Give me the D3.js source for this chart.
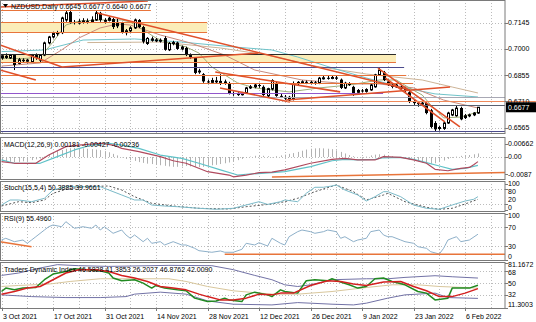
<!DOCTYPE html>
<html>
<head>
<meta charset="utf-8">
<title>NZDUSD Daily</title>
<script src="https://cdn.jsdelivr.net/npm/d3@7/dist/d3.min.js"></script>
<style>
  html, body { margin: 0; padding: 0; background: #ffffff; }
  svg { display: block; }
  text { font-family: "Liberation Sans", Arial, sans-serif; font-size: 7px; fill: #000; }
</style>
</head>
<body>
<svg id="chart" width="536" height="322"></svg>
<script>
// ---------- daily candles, bar 0 = Sun 3 Oct 2021 ----------
const opens = [
  .6950,.6962,.6950,.6966,.6920,.6940,.6932,.6928,.6966,.6938,
  .6966,.7033,.7066,.7085,.7090,.7160,.7204,.7149,.7143,.7150,
  .7155,.7150,.7160,.7199,.7160,.7158,.7165,.7150,.7143,.7090,
  .7100,.7116,.7160,.7121,.7030,.7058,.7045,.7050,.7060,.6995,
  .7030,.7035,.7000,.7005,.6966,.6950,.6880,.6860,.6820,.6815,
  .6825,.6815,.6820,.6811,.6756,.6750,.6748,.6756,.6784,.6790,
  .6800,.6790,.6740,.6778,.6810,.6740,.6735,.6735,.6720,.6808,
  .6815,.6818,.6812,.6815,.6810,.6838,.6840,.6838,.6842,.6830,
  .6784,.6810,.6790,.6760,.6770,.6765,.6773,.6790,.6856,.6870,
  .6820,.6800,.6790,.6790,.6780,.6760,.6706,.6700,.6695,.6700,
  .6660,.6590,.6560,.6560,.6590,.6634,.6630,.6673,.6620,.6630,
  .6635,.6645];
const highs = [
  .6972,.6975,.6972,.6970,.6950,.6948,.6945,.6972,.6975,.6970,
  .7040,.7072,.7095,.7100,.7178,.7210,.7218,.7160,.7165,.7170,
  .7168,.7180,.7210,.7205,.7170,.7180,.7172,.7168,.7150,.7110,
  .7125,.7168,.7165,.7128,.7065,.7068,.7060,.7058,.7070,.7038,
  .7045,.7040,.7018,.7012,.6975,.6955,.6890,.6866,.6830,.6840,
  .6845,.6860,.6830,.6818,.6765,.6760,.6762,.6790,.6800,.6810,
  .6812,.6798,.6785,.6832,.6818,.6752,.6745,.6740,.6820,.6822,
  .6826,.6825,.6824,.6822,.6845,.6855,.6850,.6852,.6850,.6836,
  .6818,.6816,.6796,.6778,.6778,.6782,.6808,.6862,.6894,.6878,
  .6830,.6808,.6808,.6800,.6790,.6768,.6718,.6712,.6712,.6708,
  .6668,.6600,.6575,.6598,.6652,.6668,.6685,.6680,.6640,.6642,
  .6650,.6677];
const lows = [
  .6940,.6945,.6944,.6883,.6915,.6925,.6920,.6922,.6940,.6925,
  .6960,.7025,.7058,.7072,.7082,.7150,.7140,.7135,.7135,.7140,
  .7140,.7145,.7155,.7150,.7140,.7152,.7110,.7115,.7085,.7075,
  .7090,.7110,.7115,.7030,.7022,.7040,.7038,.7035,.6990,.6988,
  .7020,.6995,.6992,.6960,.6945,.6860,.6862,.6812,.6805,.6808,
  .6810,.6800,.6802,.6748,.6740,.6740,.6742,.6750,.6778,.6782,
  .6785,.6740,.6732,.6770,.6735,.6728,.6718,.6710,.6715,.6800,
  .6806,.6805,.6804,.6802,.6805,.6830,.6830,.6832,.6828,.6778,
  .6778,.6795,.6740,.6752,.6758,.6758,.6768,.6785,.6850,.6822,
  .6795,.6782,.6784,.6772,.6762,.6700,.6690,.6680,.6688,.6638,
  .6560,.6542,.6548,.6552,.6585,.6628,.6625,.6605,.6612,.6622,
  .6628,.6640];
const closes = [
  .6962,.6950,.6966,.6911,.6940,.6932,.6938,.6966,.6950,.6966,
  .7033,.7066,.7085,.7090,.7171,.7199,.7149,.7143,.7150,.7155,
  .7150,.7160,.7199,.7160,.7150,.7170,.7121,.7125,.7088,.7100,
  .7116,.7160,.7121,.7040,.7058,.7045,.7050,.7040,.6995,.7030,
  .7035,.7000,.7010,.6966,.6955,.6867,.6870,.6820,.6815,.6825,
  .6815,.6820,.6810,.6756,.6750,.6748,.6752,.6784,.6790,.6800,
  .6795,.6745,.6780,.6825,.6740,.6735,.6725,.6715,.6808,.6815,
  .6818,.6812,.6815,.6810,.6838,.6840,.6838,.6842,.6835,.6784,
  .6810,.6800,.6745,.6770,.6765,.6775,.6800,.6856,.6883,.6828,
  .6800,.6790,.6800,.6780,.6770,.6706,.6700,.6695,.6700,.6645,
  .6568,.6555,.6565,.6590,.6645,.6662,.6672,.6610,.6630,.6635,
  .6645,.6677];

// ---------- axis labels ----------
const dateLabels = ["3 Oct 2021","17 Oct 2021","31 Oct 2021","14 Nov 2021","28 Nov 2021",
                    "12 Dec 2021","26 Dec 2021","9 Jan 2022","23 Jan 2022","6 Feb 2022"];
const priceTicks = [0.7145, 0.7000, 0.6855, 0.6710, 0.6565];
const macdTicks = [[0.00662, "0.00662"], [0, "0.00"], [-0.0087, "-0.0087"]];
const stochTicks = [100, 80, 20, 0];
const rsiTicks = [100, 70, 30, 0];
const tdiTicks = [[81.1672, "81.1672"], [68, "68"], [50, "50"], [32, "32"], [11.3003, "11.3003"]];

// ---------- moving averages on price, [bar, price] ----------
const fastMA = [[0,0.6948],[5,0.6946],[9,0.6955],[12,0.7038],[15,0.7132],[18,0.7154],[23,0.7160],[28,0.7160],
  [30,0.7149],[32,0.7121],[36,0.7060],[39,0.7033],[43,0.7011],[46,0.6977],[49,0.6900],[52,0.6856],[55,0.6812],
  [59,0.6784],[67,0.6762],[74,0.6784],[81,0.6800],[88,0.6828],[92,0.6828],[95,0.6784],[98,0.6745],[100,0.6690],
  [103,0.6618],[107,0.6623],[111,0.6651]];
const midMA = [[0,0.6905],[9,0.6922],[14,0.6994],[18,0.7060],[23,0.7116],[27,0.7138],[30,0.7132],[37,0.7077],
  [44,0.7033],[52,0.6966],[59,0.6883],[70,0.6828],[81,0.6806],[88,0.6806],[96,0.6784],[103,0.6717],[111,0.6673]];
const slowMA = [[0,0.6985],[10,0.6994],[19,0.7049],[31,0.7055],[42,0.7038],[54,0.7011],[63,0.6994],[69,0.6955],
  [77,0.6895],[85,0.6839],[93,0.6789],[101,0.6751],[111,0.6734]];
const longMA = [[20,0.7035],[37,0.7038],[51,0.7005],[62,0.6966],[73,0.6905],[85,0.6861],[98,0.6828],[105,0.6789],[111,0.6756]];

// ---------- drawn objects on the price pane ----------
// zones: [upper price, lower price, from bar, to bar]
const zones = [[0.7148, 0.7094, -0.35, 47.9], [0.6972, 0.6928, -0.35, 91.9]];
// levels: [price, from bar, to bar, kind]
const levels = [
  [0.7215, -0.35, 34.8, "orange"],
  [0.7148, -0.35, 47.9, "orange"], [0.7094, -0.35, 47.9, "orange"],
  [0.6972, -0.35, 91.9, "dark"], [0.6928, -0.35, 91.9, "orange"],
  [0.6900, -0.35, 93.8, "navy"],
  [0.6856, -0.35, 94.3, "orange"], [0.6811, -0.35, 95.9, "orange"],
  [0.6756, -0.35, 88.9, "purple"],
  [0.6734, -0.35, 117.3, "gray"],
  [0.6710, 66.5, 124.5, "salmon"],
  [0.6690, -0.35, 117.3, "slate"],
  [0.6546, -0.35, 117.3, "navy"]];
// trend lines: [bar1, price1, bar2, price2]
const trendLines = [
  [-0.35, 0.7232, 34.1, 0.7265],
  [22.3, 0.7199, 95.2, 0.6773],
  [-0.35, 0.7022, 14.1, 0.6900],
  [-0.35, 0.6883, 8.0, 0.6828],
  [14.1, 0.6900, 59.8, 0.6977],
  [49.8, 0.6872, 78.9, 0.6762],
  [50.9, 0.6784, 67.2, 0.6706],
  [66.3, 0.6717, 104.5, 0.6789],
  [87.7, 0.6894, 106.8, 0.6568],
  [89.4, 0.6839, 103.3, 0.6596]];

// ---------- MACD(12,26,9) ----------
const macdHist = [
  -0.0020,-0.0022,-0.0024,-0.0026,-0.0025,-0.0022,-0.0020,-0.0016,-0.0012,-0.0008,
  0.0002,0.0012,0.0022,0.0030,0.0036,0.0042,0.0045,0.0046,0.0045,0.0044,0.0042,0.0040,0.0038,0.0035,0.0030,0.0024,0.0016,
  0.0008,-0.0002,-0.0010,-0.0016,-0.0020,-0.0026,-0.0030,-0.0034,-0.0036,-0.0040,-0.0042,-0.0045,-0.0048,-0.0050,
  -0.0050,-0.0048,-0.0046,-0.0048,-0.0050,-0.0052,-0.0050,-0.0046,-0.0042,-0.0040,-0.0036,-0.0032,-0.0028,-0.0022,-0.0016,-0.0010,
  -0.0004,0.0002,0.0006,0.0008,0.0006,0.0004,-0.0002,0.0004,0.0008,0.0012,0.0016,0.0020,
  0.0026,0.0032,0.0038,0.0042,0.0044,0.0045,0.0044,0.0042,0.0040,0.0034,0.0026,0.0018,
  0.0010,0.0004,0.0000,-0.0004,0.0002,0.0008,0.0012,0.0014,0.0012,0.0008,0.0004,0.0000,-0.0004,-0.0008,-0.0012,-0.0016,
  -0.0022,-0.0028,-0.0032,-0.0034,-0.0032,-0.0026,-0.0018,
  -0.0010,-0.0004,0.0002,0.0006,0.0008,0.0010,0.0014,0.00181];
const macdMain = [[0,-0.0024],[3,-0.0032],[8,-0.0032],[11,0.0010],[15,0.0053],[18,0.0061],[23,0.0070],[26,0.0061],
  [28,0.0044],[32,0.0027],[37,0.0002],[40,-0.0019],[43,-0.0032],[48,-0.0075],[53,-0.0092],[54,-0.0101],[57,-0.0092],
  [60,-0.0080],[63,-0.0077],[66,-0.0066],[72,-0.0032],[77,-0.0012],[80,-0.0007],[83,-0.0015],[87,-0.0015],[89,0.0002],
  [93,-0.0002],[96,-0.0015],[99,-0.0032],[101,-0.0063],[104,-0.0070],[107,-0.0058],[109,-0.0053],[110,-0.0040],[111,-0.00236]];
const macdSignal = [[0,-0.0015],[3,-0.0032],[9,-0.0032],[13,0.0002],[17,0.0036],[21,0.0061],[25,0.0070],[28,0.0061],
  [32,0.0044],[37,0.0010],[42,-0.0007],[46,-0.0032],[51,-0.0066],[55,-0.0092],[57,-0.0088],[63,-0.0080],[66,-0.0075],
  [72,-0.0049],[77,-0.0019],[80,-0.0012],[83,-0.0015],[87,-0.0012],[89,-0.0004],[93,-0.0002],[96,-0.0012],[99,-0.0029],
  [102,-0.0046],[105,-0.0063],[108,-0.0058],[111,-0.00427]];
const macdTrend = [[63,-0.0102],[117.3,-0.0079]];

// ---------- Stochastic(15,5,4) ----------
const stochMain = [[0,17.6],[2,37.3],[4,37.3],[7,30.6],[10,43.9],[12,76.5],[15,89.4],[19,89.4],[23,89.4],[25,76.5],
  [28,56.9],[31,37.3],[33,37.3],[35,17.6],[38,13.7],[41,11],[46,4.7],[50,0.8],[54,4.7],[57,17.6],[60,30.6],[62,20],
  [65,30.6],[66,37.3],[69,30.6],[71,63.5],[73,87.1],[75,87.1],[77,92.2],[78,96.1],[80,76.5],[83,56.9],[85,33.3],
  [87,50.2],[89,69.8],[90,69.8],[93,50.2],[96,17.6],[99,4.7],[102,0.8],[105,17.6],[108,33.3],[110,40],[111,50.3885]];
const stochSignal = [[0,13.7],[4,30.6],[7,26.7],[10,37.3],[12,63.5],[15,79.2],[19,89.4],[25,92.2],[28,76.5],[31,50.2],
  [35,24.3],[40,13.7],[46,4.7],[53,2],[57,11],[63,21.6],[66,30.6],[69,43.9],[73,69.8],[78,96.1],[82,69.8],[85,37.3],
  [89,56.9],[90,63.5],[94,30.6],[99,8.6],[102,0.8],[105,4.7],[108,21.6],[111,39.9661]];

// ---------- RSI(9) ----------
const rsiLine = [[0,43],[1,46.7],[3,39.4],[5,43],[6,35.9],[7,43],[8,50.1],[10,64.5],[11,71.6],[12,75.3],[14,71.6],
  [15,82.4],[16,75.3],[17,68.2],[19,71.6],[21,68.2],[22,75.3],[23,64.5],[24,71.6],[26,57.4],[28,64.5],[29,53.8],
  [30,46.7],[31,53.8],[33,39.4],[34,46.7],[35,35.9],[37,39.4],[38,32.3],[40,39.4],[42,32.3],[43,32.3],[45,25.2],
  [46,20],[49,16.6],[51,19.4],[52,16.6],[54,16.6],[56,23],[57,35.9],[59,32.3],[60,37.2],[62,30.1],[63,46.7],
  [65,35.9],[66,32.3],[67,50.1],[69,60.9],[70,64.5],[72,60.9],[73,57.4],[75,60.9],[76,64.5],[78,60.9],[79,46.7],
  [80,50.1],[82,39.4],[83,43],[85,46.7],[86,60.9],[88,64.5],[89,53.8],[90,50.1],[91,50.1],[93,43],[94,39.4],
  [96,35.9],[97,28.6],[99,25.2],[100,17.8],[102,12.9],[103,25.2],[104,43],[105,46.7],[106,50.1],[107,39.4],
  [109,43],[111,55.496]];
const rsiTrends = [[[-0.35,39.4],[7,28.6]], [[52,12.3],[117.3,12.3]]];

// ---------- Traders Dynamic Index ----------
const tdiPrice = [[0,36.9],[1,42.2],[3,39.5],[5,42.2],[8,43.1],[10,55.2],[12,64],[15,68.1],[17,72.3],[20,70.8],
  [23,69.2],[25,65.6],[26,57.8],[28,53.6],[31,55.2],[33,50],[35,42.2],[36,46.3],[38,42.2],[41,39.5],[43,38],
  [45,26.6],[48,21.3],[50,22.3],[52,26.6],[53,23.9],[56,21.3],[57,31.7],[59,35.9],[62,31.7],[63,29],[65,39.5],
  [66,36.9],[69,34.4],[71,53.6],[73,55.2],[76,53.6],[77,56.7],[79,51.6],[81,47.3],[83,42.2],[85,44.7],[87,56.7],
  [89,57.8],[91,52.5],[94,47.3],[97,36.9],[99,34.4],[101,23.9],[104,26.6],[105,42.2],[107,42.2],[109,42.2],[111,46.5828]];
const tdiSignal = [[0,32.8],[3,36.9],[6,42.2],[9,44.7],[12,55.2],[15,65.6],[18,70.8],[22,70.8],[25,68.1],[28,61.9],
  [31,57.8],[34,52.5],[37,44.7],[40,42.2],[43,39.5],[46,32.8],[48,29],[51,23.9],[54,23.9],[57,26.6],[60,32.8],
  [63,31.7],[65,34.4],[68,34.4],[72,46.3],[76,53.6],[79,52.5],[82,48.4],[85,46.3],[89,51.6],[93,52.5],[96,44.7],
  [99,38],[102,29],[105,29],[108,34.4],[111,41.3853]];
const tdiBase = [[0,44.7],[4,46.3],[11,48.4],[16,52.5],[23,56.7],[31,56.7],[39,56.7],[43,52.5],[48,44.7],[54,38],
  [63,32.8],[69,32.8],[77,36.9],[85,43.1],[91,47.3],[97,47.3],[102,44.7],[108,43.1],[111,42.009]];
const tdiUpper = [[0,61.9],[4,65.6],[9,73.4],[13,78.6],[18,77],[25,75.9],[39,77.5],[49,77],[54,70.8],[59,61.9],
  [63,55.2],[66,47.3],[69,44.7],[72,47.3],[77,55.2],[85,56.7],[90,56.7],[94,58.8],[101,61.4],[105,59.8],[111,57.8]];
const tdiLower = [[0,31.7],[7,29],[15,27.5],[23,27.5],[29,29],[31,32.8],[37,35.9],[43,32.8],[48,22.3],[54,17.2],
  [63,16.1],[69,19.7],[77,17.2],[82,16.1],[85,18.8],[90,26.6],[94,31.7],[101,34.4],[104,27.5],[111,26.2027]];

// ---------- layout & colours ----------
const plotRight = 505;
const panes = {
  main:  { top: 0,   bottom: 133 },
  macd:  { top: 137, bottom: 179 },
  stoch: { top: 181, bottom: 211 },
  rsi:   { top: 213, bottom: 260 },
  tdi:   { top: 262, bottom: 308 }
};
const ink = {
  orange: "#e8743a", red: "#e0502a", navy: "#4b4b8c", purple: "#9257cc", dark: "#2a2a2a",
  gray: "#a8a8b4", slate: "#5a6070", salmon: "#f08a5c", grid: "#bcbcbc", frame: "#7a7a7a"
};

const svg = d3.select("#chart");
const x = d3.scaleLinear().domain([-0.35, 117.3]).range([0, plotRight]);
const col = i => Math.round(x(i)) + 0.5;
const crisp = v => Math.round(v) + 0.5;

const y = {
  main:  d3.scaleLinear().domain([0.65346, 0.72706]).range([133, 0]),
  macd:  d3.scaleLinear().domain([-0.01122, 0.0102]).range([179, 137]),
  stoch: d3.scaleLinear().domain([0, 100]).range([209.5, 184]),
  rsi:   d3.scaleLinear().domain([0, 100]).range([260, 213.5]),
  tdi:   d3.scaleLinear().domain([11.3003, 81.1672]).range([308, 263])
};

svg.append("rect").attr("width", 536).attr("height", 322).attr("fill", "#fff");

const defs = svg.append("defs");
Object.entries(panes).forEach(([k, p]) => {
  defs.append("clipPath").attr("id", "clip-" + k)
    .append("rect").attr("x", 0).attr("y", p.top).attr("width", plotRight).attr("height", p.bottom - p.top);
});
const layer = k => svg.append("g").attr("clip-path", `url(#clip-${k})`);

function hline(g, yy, x1, x2, color, w, dash) {
  g.append("line").attr("x1", x1).attr("x2", x2).attr("y1", crisp(yy)).attr("y2", crisp(yy))
    .attr("stroke", color).attr("stroke-width", w || 1).attr("stroke-dasharray", dash || null);
}
function series(g, data, sc, color, w, dash) {
  g.append("path").datum(data)
    .attr("d", d3.line().x(d => x(d[0])).y(d => sc(d[1])))
    .attr("fill", "none").attr("stroke", color).attr("stroke-width", w || 1)
    .attr("stroke-linejoin", "round").attr("stroke-dasharray", dash || null);
}

// ---------- grid ----------
const weekBars = d3.range(0, 117, 6);
const gridG = svg.append("g");
Object.values(panes).forEach(p => {
  weekBars.forEach(i => {
    gridG.append("line").attr("x1", col(i)).attr("x2", col(i)).attr("y1", p.top).attr("y2", p.bottom)
      .attr("stroke", ink.grid).attr("stroke-dasharray", "1,2");
  });
});
priceTicks.forEach(p => hline(gridG, y.main(p), 0, plotRight, ink.grid, 1, "1,2"));
hline(gridG, y.macd(0), 0, plotRight, ink.grid, 1, "1,2");
[80, 20].forEach(v => hline(gridG, y.stoch(v), 0, plotRight, ink.grid, 1, "1,2"));
[70, 30].forEach(v => hline(gridG, y.rsi(v), 0, plotRight, ink.grid, 1, "1,2"));
[68, 50, 32].forEach(v => hline(gridG, y.tdi(v), 0, plotRight, ink.grid, 1, "1,2"));

// ---------- price pane ----------
const mainG = layer("main");
zones.forEach(z => {
  mainG.append("rect").attr("x", x(z[2])).attr("width", x(z[3]) - x(z[2]))
    .attr("y", y.main(z[0])).attr("height", y.main(z[1]) - y.main(z[0]))
    .attr("fill", "#fbedb8");
});
series(mainG, longMA, y.main, "#cdb497", 1);
series(mainG, slowMA, y.main, "#6fc3c9", 1);
series(mainG, midMA, y.main, "#c98a7c", 1);
series(mainG, fastMA, y.main, "#9fae78", 1);

const candles = d3.range(closes.length).map(i => ({ i, o: opens[i], h: highs[i], l: lows[i], c: closes[i] }));
const cg = mainG.append("g");
candles.forEach(d => {
  const cx = col(d.i);
  cg.append("line").attr("x1", cx).attr("x2", cx).attr("y1", y.main(d.h)).attr("y2", y.main(d.l))
    .attr("stroke", "#000").attr("stroke-width", 1);
  const top = y.main(Math.max(d.o, d.c)), bot = y.main(Math.min(d.o, d.c));
  const h = Math.max(1, bot - top);
  if (d.c >= d.o) {
    cg.append("rect").attr("x", cx - 1).attr("width", 2).attr("y", top).attr("height", h)
      .attr("fill", "#fff").attr("stroke", "#000").attr("stroke-width", 1);
  } else {
    cg.append("rect").attr("x", cx - 1.5).attr("width", 3).attr("y", top).attr("height", h).attr("fill", "#000");
  }
});

const levelG = svg.append("g");
levels.forEach(l => {
  const g = l[3] === "salmon" ? levelG : mainG;
  hline(g, y.main(l[0]), x(l[1]), x(l[2]), ink[l[3]], 1);
});
trendLines.forEach(t => {
  mainG.append("line").attr("x1", x(t[0])).attr("y1", y.main(t[1])).attr("x2", x(t[2])).attr("y2", y.main(t[3]))
    .attr("stroke", ink.red).attr("stroke-width", 1.6);
});

// ---------- MACD pane ----------
const macdG = layer("macd");
macdHist.forEach((v, i) => {
  macdG.append("line").attr("x1", col(i)).attr("x2", col(i)).attr("y1", y.macd(0)).attr("y2", y.macd(v))
    .attr("stroke", "#b2b2b2").attr("stroke-width", 1);
});
series(macdG, macdSignal, y.macd, "#5fc2c8", 1.2);
series(macdG, macdMain, y.macd, "#b04a5e", 1.2);
series(macdG, macdTrend, y.macd, ink.orange, 1.6);

// ---------- Stochastic pane ----------
const stG = layer("stoch");
series(stG, stochSignal, y.stoch, "#555", 1, "2,2");
series(stG, stochMain, y.stoch, "#7bbac8", 1);

// ---------- RSI pane ----------
const rsG = layer("rsi");
series(rsG, rsiLine, y.rsi, "#8eb0c9", 1);
rsiTrends.forEach(t => series(rsG, t, y.rsi, ink.orange, 1.6));

// ---------- TDI pane ----------
const tdG = layer("tdi");
series(tdG, tdiUpper, y.tdi, "#7272a6", 1);
series(tdG, tdiLower, y.tdi, "#7272a6", 1);
series(tdG, tdiBase, y.tdi, "#d9c79c", 1);
series(tdG, tdiPrice, y.tdi, "#218a21", 1.5);
series(tdG, tdiSignal, y.tdi, "#d42020", 1.5);

// ---------- frames ----------
Object.values(panes).forEach(p => {
  svg.append("rect").attr("x", 0.5).attr("y", p.top + 0.5).attr("width", plotRight - 0.5)
    .attr("height", p.bottom - p.top).attr("fill", "none").attr("stroke", ink.frame).attr("stroke-width", 1);
});

// ---------- right axis labels ----------
const axG = svg.append("g");
// place a pane's scale labels, keeping them inside the pane and at least `gap` px apart
function paneLabels(pane, items, gap) {
  const p = panes[pane];
  const lo = p.top + 3, hi = p.bottom - 3;
  const pos = items.map(d => ({ y0: d.y, y: Math.max(lo, Math.min(hi, d.y)), s: d.s }))
    .sort((a, b) => a.y - b.y);
  for (let k = 1; k < pos.length; k++) pos[k].y = Math.max(pos[k].y, pos[k - 1].y + gap);
  if (pos.length && pos[pos.length - 1].y > hi) {
    pos[pos.length - 1].y = hi;
    for (let k = pos.length - 2; k >= 0; k--) pos[k].y = Math.min(pos[k].y, pos[k + 1].y - gap);
  }
  pos.forEach(d => {
    axG.append("line").attr("x1", plotRight).attr("x2", plotRight + 3).attr("y1", crisp(d.y0)).attr("y2", crisp(d.y0))
      .attr("stroke", ink.frame);
    axG.append("text").attr("x", plotRight + 3).attr("y", d.y).attr("dy", "0.35em").text(d.s);
  });
}
paneLabels("main", priceTicks.map(p => ({ y: y.main(p), s: p.toFixed(4) })), 8);
paneLabels("macd", macdTicks.map(t => ({ y: y.macd(t[0]), s: t[1] })), 8);
paneLabels("stoch", stochTicks.map(v => ({ y: y.stoch(v), s: String(v) })), 8);
paneLabels("rsi", rsiTicks.map(v => ({ y: y.rsi(v), s: String(v) })), 8);
paneLabels("tdi", tdiTicks.map(t => ({ y: y.tdi(t[0]), s: t[1] })), 8);

const last = closes.length - 1;
const yLast = y.main(closes[last]);
axG.append("rect").attr("x", plotRight + 1).attr("y", yLast - 5).attr("width", 30).attr("height", 10).attr("fill", "#000");
axG.append("text").attr("x", plotRight + 3).attr("y", yLast).attr("dy", "0.35em").style("fill", "#fff")
  .text(closes[last].toFixed(4));

// ---------- date axis ----------
dateLabels.forEach((s, k) => {
  const i = k * 12;
  axG.append("line").attr("x1", col(i)).attr("x2", col(i)).attr("y1", panes.tdi.bottom).attr("y2", panes.tdi.bottom + 3)
    .attr("stroke", ink.frame);
  axG.append("text").attr("x", col(i) + 0.5).attr("y", 318.5).text(s);
});

// ---------- pane captions ----------
const capG = svg.append("g");
capG.append("path").attr("d", "M3,4 L8,4 L5.5,7.5 Z").attr("fill", "#000");
capG.append("text").attr("x", 11).attr("y", 8.5)
  .text(`NZDUSD,Daily  ${opens[last].toFixed(4)} ${highs[last].toFixed(4)} ${lows[last].toFixed(4)} ${closes[last].toFixed(4)}`);
capG.append("text").attr("x", 4).attr("y", 146.5)
  .text(`MACD(12,26,9) ${macdHist[last].toFixed(5)} ${macdSignal[macdSignal.length - 1][1].toFixed(5)} ${macdMain[macdMain.length - 1][1].toFixed(5)}`);
capG.append("text").attr("x", 4).attr("y", 189.5)
  .text(`Stoch(15,5,4) ${stochMain[stochMain.length - 1][1].toFixed(4)} ${stochSignal[stochSignal.length - 1][1].toFixed(4)}`);
capG.append("text").attr("x", 4).attr("y", 220.5)
  .text(`RSI(9) ${rsiLine[rsiLine.length - 1][1].toFixed(4)}`);
capG.append("text").attr("x", 4).attr("y", 271.5)
  .text("Traders Dynamic Index 46.5828 41.3853 26.2027 46.8762 42.0090");
</script>
</body>
</html>
